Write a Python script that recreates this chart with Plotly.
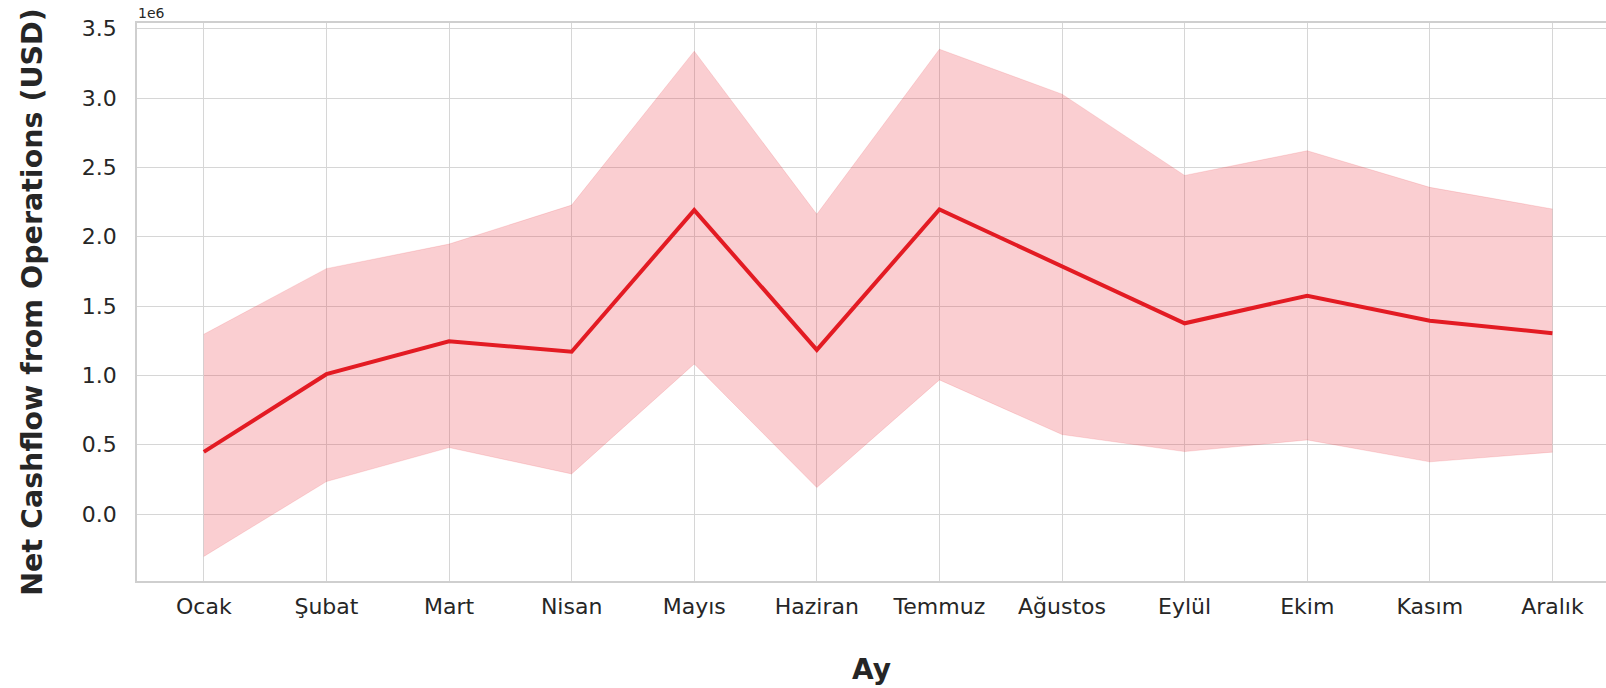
import plotly.graph_objects as go

months = ["Ocak", "Şubat", "Mart", "Nisan", "Mayıs", "Haziran",
          "Temmuz", "Ağustos", "Eylül", "Ekim", "Kasım", "Aralık"]
mean_cf = [449000, 1009000, 1246000, 1171000, 2192000, 1184000,
           2197000, 1784000, 1376000, 1575000, 1395000, 1304000]
upper_cf = [1297000, 1770000, 1947000, 2228000, 3338000, 2162000,
            3352000, 3028000, 2442000, 2620000, 2356000, 2200000]
lower_cf = [-305000, 235000, 480000, 290000, 1083000, 192000,
            968000, 574000, 451000, 535000, 377000, 447000]
y_ticks = [0.0, 0.5, 1.0, 1.5, 2.0, 2.5, 3.0, 3.5]

x_idx = list(range(len(months)))
LINE = "#e31b23"
FONT = "DejaVu Sans"
TXT = "#262626"

fig = go.Figure()
fig.add_trace(go.Scatter(x=x_idx, y=upper_cf, mode="lines",
                         line=dict(width=1, color="rgba(227,27,35,0.12)"),
                         hoverinfo="skip", showlegend=False))
fig.add_trace(go.Scatter(x=x_idx, y=lower_cf, mode="lines",
                         line=dict(width=1, color="rgba(227,27,35,0.12)"),
                         fill="tonexty", fillcolor="rgba(236,60,72,0.25)",
                         hoverinfo="skip", showlegend=False))
fig.add_trace(go.Scatter(x=x_idx, y=mean_cf, mode="lines",
                         line=dict(width=4, color=LINE), showlegend=False))

fig.update_layout(
    width=1606, height=688,
    margin=dict(l=137, r=0, t=23, b=107, autoexpand=False),
    paper_bgcolor="white", plot_bgcolor="white",
    font=dict(family=FONT, color=TXT),
    showlegend=False,
)
fig.update_xaxes(
    range=[-0.545, 11.437],
    tickvals=x_idx, ticktext=months,
    tickfont=dict(size=22, family=FONT, color=TXT),
    showgrid=True, gridcolor="#d6d6d6", gridwidth=1,
    showline=True, linecolor="#cfcfcf", linewidth=1.5, mirror=True,
    ticks="", ticklabelstandoff=5,
    zeroline=False, automargin=False,
    title=dict(text="<b>Ay</b>", font=dict(size=28, family=FONT, color=TXT), standoff=41),
)
fig.update_yaxes(
    range=[-482000, 3541000],
    tickvals=[t * 1e6 for t in y_ticks],
    ticktext=[f"{t:.1f}" for t in y_ticks],
    tickfont=dict(size=22, family=FONT, color=TXT),
    showgrid=True, gridcolor="#d6d6d6", gridwidth=1,
    showline=True, linecolor="#cfcfcf", linewidth=1.5, mirror=False,
    ticks="", ticklabelstandoff=14,
    zeroline=False, automargin=False,
    title=dict(text="<b>Net Cashflow from Operations (USD)</b>",
               font=dict(size=28.5, family=FONT, color=TXT), standoff=31),
)
fig.add_annotation(text="1e6", xref="paper", yref="paper", x=0, y=1,
                   xanchor="left", yanchor="bottom", yshift=0, xshift=-1,
                   showarrow=False, font=dict(size=14, family=FONT, color=TXT))

fig.write_html("out.html", config={"displayModeBar": False},
               post_script="document.body.style.margin='0';document.body.style.overflow='hidden';")
